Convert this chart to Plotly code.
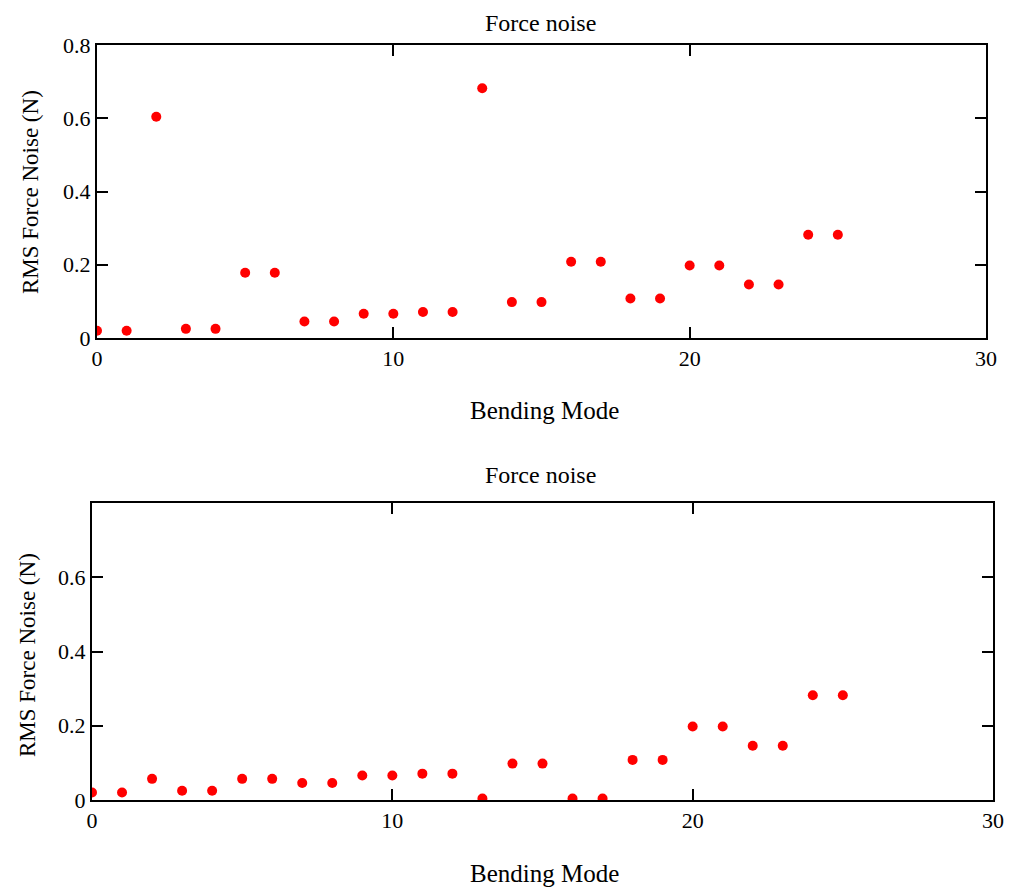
import plotly.graph_objects as go

modes = list(range(26))
top_noise = [0.020, 0.020, 0.604, 0.025, 0.025, 0.178, 0.178, 0.045, 0.045, 0.066,
             0.066, 0.071, 0.071, 0.682, 0.098, 0.098, 0.208, 0.208, 0.108, 0.108,
             0.198, 0.198, 0.146, 0.146, 0.282, 0.282]
bottom_noise = [0.020, 0.020, 0.057, 0.025, 0.025, 0.057, 0.057, 0.046, 0.046, 0.066,
                0.066, 0.071, 0.071, 0.004, 0.098, 0.098, 0.004, 0.004, 0.108, 0.108,
                0.198, 0.198, 0.146, 0.146, 0.282, 0.282]
x_ticks = [0, 10, 20, 30]
top_y_ticks = [0, 0.2, 0.4, 0.6, 0.8]
bottom_y_ticks = [0, 0.2, 0.4, 0.6]

# page body has an 8px margin: size the figure so it fits the 1014x888 window
OFF = 8
W, H = 1014 - OFF, 888 - OFF
FONT = "Liberation Serif"

fig = go.Figure()
fig.add_trace(go.Scatter(x=modes, y=top_noise, mode="markers",
                         marker=dict(color="#ff0000", size=10), xaxis="x", yaxis="y",
                         showlegend=False))
fig.add_trace(go.Scatter(x=modes, y=bottom_noise, mode="markers",
                         marker=dict(color="#ff0000", size=10), xaxis="x2", yaxis="y2",
                         showlegend=False))

axis_common = dict(showline=True, linecolor="black", linewidth=2, mirror="ticks",
                   ticks="inside", ticklen=11, tickwidth=2, tickcolor="black",
                   showgrid=False, zeroline=False, automargin=False,
                   tickfont=dict(family=FONT, size=22, color="black"))

def px(x):
    return (x - OFF) / W

def py(y):
    return 1 - (y - OFF) / H

fig.update_layout(
    width=W, height=H,
    margin=dict(l=0, r=0, t=0, b=0, pad=0, autoexpand=False),
    paper_bgcolor="white", plot_bgcolor="white",
    font=dict(family=FONT, color="black"),
    xaxis=dict(domain=[px(97), px(986)], range=[0, 30], tickvals=x_ticks,
               anchor="y", **axis_common),
    yaxis=dict(domain=[py(338), py(45)], range=[0, 0.8], tickvals=top_y_ticks,
               anchor="x", **axis_common),
    xaxis2=dict(domain=[px(92), px(993)], range=[0, 30], tickvals=x_ticks,
                anchor="y2", **axis_common),
    yaxis2=dict(domain=[py(800), py(503)], range=[0, 0.8], tickvals=bottom_y_ticks,
                anchor="x2", **axis_common),
)

title_font = dict(family=FONT, size=24, color="black")
big_font = dict(family=FONT, size=25, color="black")
ylab_font = dict(family=FONT, size=23, color="black")
anns = [
    dict(text="Force noise", x=px(540), y=py(23), font=title_font),
    dict(text="Bending Mode", x=px(544), y=py(410), font=big_font),
    dict(text="RMS Force Noise (N)", x=px(30), y=py(192), textangle=-90, font=ylab_font),
    dict(text="Force noise", x=px(540), y=py(475), font=title_font),
    dict(text="Bending Mode", x=px(544), y=py(873), font=big_font),
    dict(text="RMS Force Noise (N)", x=px(27), y=py(655), textangle=-90, font=ylab_font),
]
for a in anns:
    fig.add_annotation(xref="paper", yref="paper", showarrow=False,
                       xanchor="center", yanchor="middle", **a)

fig.write_html("out.html")
